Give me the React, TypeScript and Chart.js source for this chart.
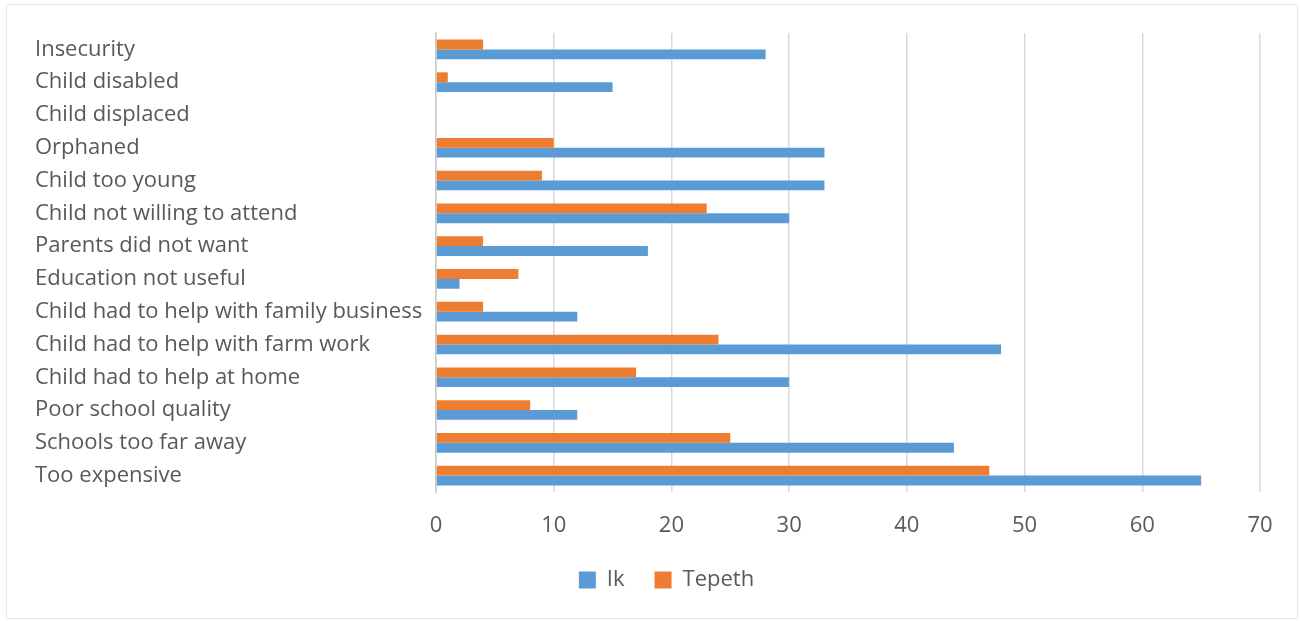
import React, { useEffect, useRef } from "react";
import { Chart, registerables } from "chart.js";

Chart.register(...registerables);

// Reasons for not attending school, listed top to bottom
const reasons: string[] = [
  "Insecurity",
  "Child disabled",
  "Child displaced",
  "Orphaned",
  "Child too young",
  "Child not willing to attend",
  "Parents did not want",
  "Education not useful",
  "Child had to help with family business",
  "Child had to help with farm work",
  "Child had to help at home",
  "Poor school quality",
  "Schools too far away",
  "Too expensive",
];

const ikValues: number[] = [28, 15, 0, 33, 33, 30, 18, 2, 12, 48, 30, 12, 44, 65];
const tepethValues: number[] = [4, 1, 0, 10, 9, 23, 4, 7, 4, 24, 17, 8, 25, 47];

const xTicks: number[] = [0, 10, 20, 30, 40, 50, 60, 70];

const FONT = "'Open Sans', 'Noto Sans', sans-serif";
const TEXT = "#595959";

// Nudges the legend a little to the right of the layout's centre line
const legendShift = {
  id: "legendShift",
  afterLayout(chart: any) {
    const lg = chart.legend;
    if (lg) {
      lg.left += 19;
      lg.right += 19;
    }
  },
};

export default function App() {
  const canvasRef = useRef<HTMLCanvasElement | null>(null);

  useEffect(() => {
    if (!canvasRef.current) return;
    const chart = new Chart(canvasRef.current, {
      type: "bar",
      data: {
        labels: reasons,
        datasets: [
          {
            label: "Tepeth",
            data: tepethValues,
            backgroundColor: "#ED7D31",
            borderWidth: 0,
            categoryPercentage: 0.6,
            barPercentage: 1,
          },
          {
            label: "Ik",
            data: ikValues,
            backgroundColor: "#5B9BD5",
            borderWidth: 0,
            categoryPercentage: 0.6,
            barPercentage: 1,
          },
        ],
      },
      options: {
        indexAxis: "y",
        animation: false,
        responsive: false,
        maintainAspectRatio: false,
        layout: { padding: { left: 35, right: 40, top: 33, bottom: 20 } },
        scales: {
          x: {
            min: 0,
            max: 70,
            afterBuildTicks: (axis: any) => {
              axis.ticks = xTicks.map((v) => ({ value: v }));
            },
            afterFit: (axis: any) => {
              axis.height = 47;
            },
            grid: { color: "#d9d9d9", lineWidth: 1.5, drawTicks: false },
            border: { display: false },
            ticks: {
              padding: 21,
              color: TEXT,
              font: { family: FONT, size: 22 },
            },
          },
          y: {
            afterFit: (axis: any) => {
              axis.width = 401;
            },
            grid: { display: false, drawTicks: false },
            border: { display: true, color: "#c8c8c8", width: 1.5 },
            ticks: {
              crossAlign: "far",
              autoSkip: false,
              color: TEXT,
              font: { family: FONT, size: 22 },
            },
          },
        },
        plugins: {
          legend: {
            position: "bottom",
            reverse: true,
            labels: {
              boxWidth: 17,
              boxHeight: 17,
              padding: 30,
              color: TEXT,
              font: { family: FONT, size: 22 },
            },
          },
          tooltip: { enabled: false },
        },
      },
      plugins: [legendShift],
    });
    return () => chart.destroy();
  }, []);

  return (
    <div style={{ position: "fixed", left: 0, top: 0, width: 1300, height: 621, background: "#fff" }}>
      <div
        style={{
          position: "absolute",
          left: 6,
          top: 4,
          width: 1292,
          height: 615,
          border: "1px solid #e8e8e8",
          boxSizing: "border-box",
        }}
      />
      <canvas
        ref={canvasRef}
        width={1300}
        height={621}
        style={{ position: "absolute", left: 0, top: 0, width: 1300, height: 621 }}
      />
    </div>
  );
}
